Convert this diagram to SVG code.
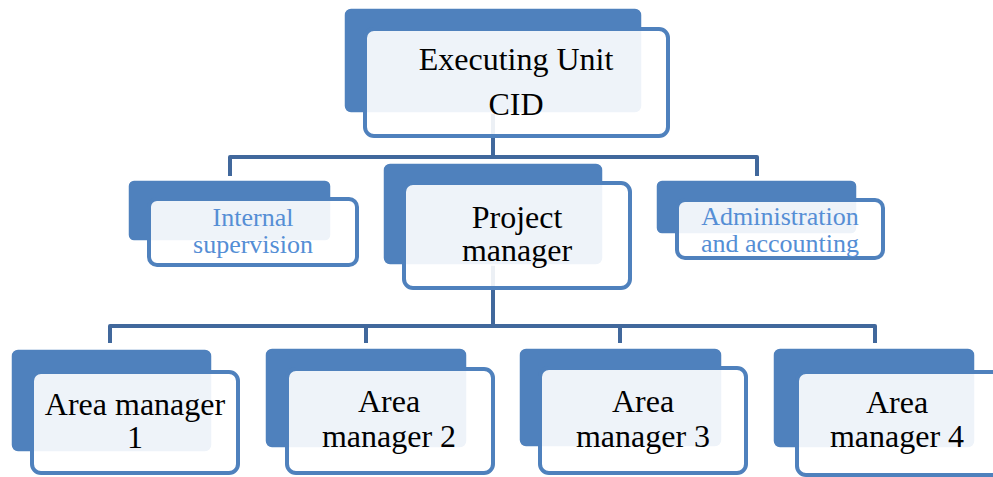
<svg xmlns="http://www.w3.org/2000/svg" width="993" height="477" viewBox="0 0 993 477">
<style>
.back{fill:#4F81BD;stroke:#FFFFFF;stroke-width:1.5}
.front{fill:#FFFFFF;fill-opacity:0.9;stroke:#4F81BD;stroke-width:4}
.conn{fill:none;stroke:#41689C;stroke-width:4;stroke-linejoin:round}
.big{font-family:"Liberation Serif","Times New Roman",serif;font-size:32px;fill:#000000;text-anchor:middle}
.small{font-family:"Liberation Serif","Times New Roman",serif;font-size:26px;fill:#558ED5;text-anchor:middle}
</style>
<rect width="993" height="477" fill="#FFFFFF"/>
<g id="connectors">
<path class="conn" d="M493,113 V157"/>
<path class="conn" d="M230,176 V157 H757 V176"/>
<path class="conn" d="M493,265 V326"/>
<path class="conn" d="M110,343 V326 H875 V343"/>
<path class="conn" d="M366,326 V343"/>
<path class="conn" d="M620,326 V343"/>
</g>
<g id="executing-unit">
<rect class="back" x="344" y="8" width="298" height="105" rx="7"/>
<rect class="front" x="365" y="29" width="303" height="107" rx="9"/>
<text class="big" x="516" y="70">Executing Unit</text>
<text class="big" x="516" y="115">CID</text>
</g>
<g id="internal-supervision">
<rect class="back" x="128" y="180" width="203" height="61" rx="6"/>
<rect class="front" x="149" y="199" width="208" height="66" rx="8"/>
<text class="small" x="253" y="226">Internal</text>
<text class="small" x="253" y="253">supervision</text>
</g>
<g id="project-manager">
<rect class="back" x="383" y="163" width="220" height="102" rx="7"/>
<rect class="front" x="404" y="183" width="226" height="105" rx="9"/>
<text class="big" x="517" y="228">Project</text>
<text class="big" x="517" y="261">manager</text>
</g>
<g id="administration">
<rect class="back" x="656" y="180" width="201" height="54" rx="6"/>
<rect class="front" x="677" y="200" width="206" height="58" rx="8"/>
<text class="small" x="780" y="225">Administration</text>
<text class="small" x="780" y="252">and accounting</text>
</g>
<g id="area-manager-1">
<rect class="back" x="11" y="349" width="201" height="103" rx="7"/>
<rect class="front" x="32" y="372" width="206" height="101" rx="9"/>
<text class="big" x="135" y="415">Area manager</text>
<text class="big" x="135" y="448">1</text>
</g>
<g id="area-manager-2">
<rect class="back" x="265" y="348" width="202" height="100" rx="7"/>
<rect class="front" x="287" y="369" width="206" height="104" rx="9"/>
<text class="big" x="389" y="412">Area</text>
<text class="big" x="389" y="447">manager 2</text>
</g>
<g id="area-manager-3">
<rect class="back" x="519" y="348" width="203" height="99" rx="7"/>
<rect class="front" x="540" y="368" width="206" height="105" rx="9"/>
<text class="big" x="643" y="412">Area</text>
<text class="big" x="643" y="447">manager 3</text>
</g>
<g id="area-manager-4">
<rect class="back" x="773" y="348" width="202" height="100" rx="7"/>
<rect class="front" x="797" y="372" width="206" height="103" rx="9"/>
<text class="big" x="897" y="413">Area</text>
<text class="big" x="897" y="447">manager 4</text>
</g>
</svg>
